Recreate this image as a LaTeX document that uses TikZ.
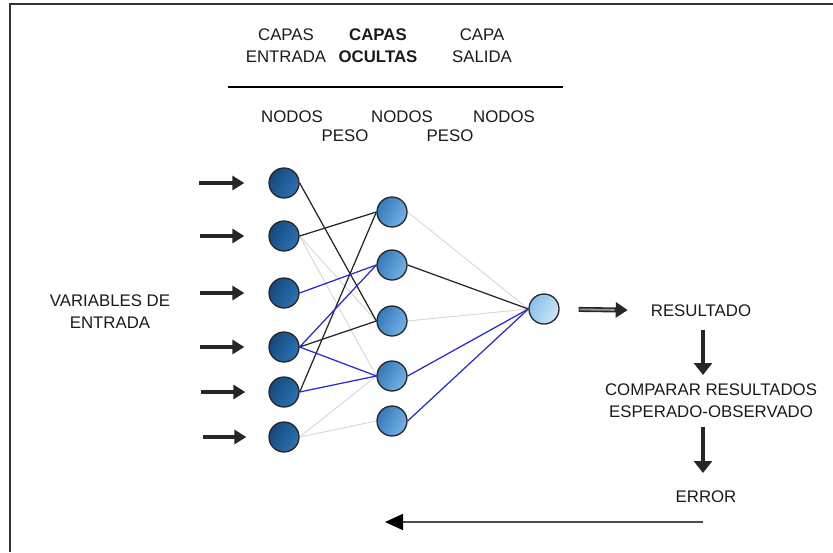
\documentclass[tikz,border=0pt]{standalone}
\usepackage{fontspec}
\setmainfont{Liberation Sans}
\usetikzlibrary{arrows.meta}

\definecolor{inL}{HTML}{16497C}
\definecolor{inR}{HTML}{2B72B2}
\definecolor{hidL}{HTML}{3479BA}
\definecolor{hidR}{HTML}{75B2E6}
\definecolor{outL}{HTML}{86BFEA}
\definecolor{outR}{HTML}{CDE7F9}
\definecolor{linkblue}{HTML}{2A2ACC}
\definecolor{linkpale}{HTML}{D6D6D6}
\definecolor{txt}{HTML}{1A1A1A}
\definecolor{tipdark}{HTML}{262626}

\pgfdeclarelayer{background}
\pgfsetlayers{background,main}

\begin{document}
\begin{tikzpicture}[x=1pt,y=-1pt,
  lbl/.style={font=\fontsize{16.8}{22}\selectfont, text=txt, inner sep=0pt, align=center},
  neuron/.style={circle, draw=black!85, line width=1.3pt, minimum size=30pt, inner sep=0pt},
  inneuron/.style={neuron, left color=inL, right color=inR, shading angle=60},
  hidneuron/.style={neuron, left color=hidL, right color=hidR, shading angle=60},
  outneuron/.style={neuron, left color=outL, right color=outR, shading angle=60},
  darkLink/.style={draw=black!85, line width=1.25pt},
  blueLink/.style={draw=linkblue, line width=1.25pt},
  paleLink/.style={draw=linkpale, line width=0.9pt},
  feed/.style={draw=tipdark, line width=3.8pt, -{Triangle[length=12pt,width=14pt]}},
  downarrow/.style={draw=tipdark, line width=4.5pt, -{Triangle[length=12pt,width=18pt]}},
  backarrow/.style={draw=black!70, line width=1.6pt, -{Triangle[length=18pt,width=16pt,color=black]}}
]
\useasboundingbox (0,0) rectangle (833,552);

% frame (top and left edges)
\draw[line width=1.3pt, black!80] (10,552) -- (10,4) -- (833,4);

% headings
\node[lbl] (capIn)  at (286,46) {CAPAS\\ENTRADA};
\node[lbl, font=\fontsize{16.8}{22}\selectfont\bfseries] (capHid) at (378,46) {CAPAS\\OCULTAS};
\node[lbl] (capOut) at (482,46) {CAPA\\SALIDA};
\draw[line width=1.1pt, black] (228,87) -- (563,87);
\node[lbl] (nod1) at (292,117) {NODOS};
\node[lbl] (nod2) at (402,117) {NODOS};
\node[lbl] (nod3) at (504,117) {NODOS};
\node[lbl] (peso1) at (345,136) {PESO};
\node[lbl] (peso2) at (450,136) {PESO};
\node[lbl] (vars) at (110,312) {VARIABLES DE\\ENTRADA};

% input layer
\node[inneuron] (i1) at (284,183) {};
\node[inneuron] (i2) at (284,236) {};
\node[inneuron] (i3) at (284,293) {};
\node[inneuron] (i4) at (284,347) {};
\node[inneuron] (i5) at (284,392) {};
\node[inneuron] (i6) at (284,437) {};

% hidden layer
\node[hidneuron] (h1) at (392,212) {};
\node[hidneuron] (h2) at (392,265) {};
\node[hidneuron] (h3) at (392,321) {};
\node[hidneuron] (h4) at (392,376) {};
\node[hidneuron] (h5) at (392,421) {};

% output layer
\node[outneuron] (o) at (544,309) {};

% weights
\begin{pgfonlayer}{background}
\draw[paleLink] (i2.east) -- (h3.west);
\draw[paleLink] (i2.east) -- (h4.west);
\draw[paleLink] (i6.east) -- (h4.west);
\draw[paleLink] (i6.east) -- (h5.west);
\draw[paleLink] (h1.east) -- (o.west);
\draw[paleLink] (h3.east) -- (o.west);
\draw[darkLink] (i1.east) -- (h3.west);
\draw[darkLink] (i2.east) -- (h1.west);
\draw[darkLink] (i4.east) -- (h3.west);
\draw[darkLink] (i5.east) -- (h1.west);
\draw[darkLink] (h2.east) -- (o.west);
\draw[blueLink] (i3.east) -- (h2.west);
\draw[blueLink] (i4.east) -- (h2.west);
\draw[blueLink] (i4.east) -- (h4.west);
\draw[blueLink] (i5.east) -- (h4.west);
\draw[blueLink] (h4.east) -- (o.west);
\draw[blueLink] (h5.east) -- (o.west);
\end{pgfonlayer}

% input arrows
\coordinate (s1) at (199,183);
\coordinate (s2) at (200,236);
\coordinate (s3) at (200,293);
\coordinate (s4) at (200,347);
\coordinate (s5) at (201,392);
\coordinate (s6) at (203,437);
\draw[feed, shorten >=24pt] (s1) -- (i1);
\draw[feed, shorten >=24pt] (s2) -- (i2);
\draw[feed, shorten >=24pt] (s3) -- (i3);
\draw[feed, shorten >=24pt] (s4) -- (i4);
\draw[feed, shorten >=23pt] (s5) -- (i5);
\draw[feed, shorten >=22pt] (s6) -- (i6);

% result side
\node[lbl] (res) at (701,311) {RESULTADO};
\node[lbl] (cmp) at (711,401) {COMPARAR RESULTADOS\\ESPERADO-OBSERVADO};
\node[lbl] (err) at (706,497) {ERROR};

\draw[draw=tipdark, line width=5pt, -{Triangle[length=12pt,width=15pt]},
      shorten <=19pt, shorten >=23pt] (o) -- (res);
\draw[draw=black!40, line width=1.8pt, shorten <=20pt, shorten >=36pt] (o) -- (res);

\coordinate (r1) at (703,317);
\coordinate (c1) at (703,384);
\coordinate (c2) at (703,418);
\coordinate (e1) at (703,491);
\draw[downarrow, shorten <=13pt, shorten >=9pt] (r1) -- (c1);
\draw[downarrow, shorten <=9pt, shorten >=18pt] (c2) -- (e1);

% feedback line
\coordinate (eS) at (703,522);
\coordinate (eT) at (385,522);
\draw[backarrow] (eS) -- (eT);
\end{tikzpicture}
\end{document}
